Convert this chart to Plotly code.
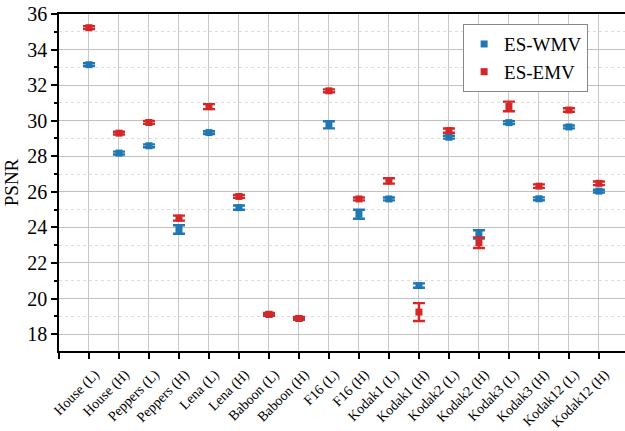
import plotly.graph_objects as go

categories = ["House (L)", "House (H)", "Peppers (L)", "Peppers (H)", "Lena (L)", "Lena (H)",
              "Baboon (L)", "Baboon (H)", "F16 (L)", "F16 (H)", "Kodak1 (L)", "Kodak1 (H)",
              "Kodak2 (L)", "Kodak2 (H)", "Kodak3 (L)", "Kodak3 (H)", "Kodak12 (L)", "Kodak12 (H)"]

wmv = [33.15, 28.18, 28.59, 23.88, 29.33, 25.11, 19.11, 18.88, 29.77, 24.74, 25.60, 20.73,
       29.07, 23.61, 29.89, 25.61, 29.65, 26.04]
wmv_err = [0.08, 0.08, 0.08, 0.24, 0.08, 0.12, 0.05, 0.05, 0.20, 0.25, 0.08, 0.12,
           0.08, 0.23, 0.08, 0.08, 0.08, 0.08]

emv = [35.23, 29.30, 29.90, 24.52, 30.79, 25.74, 19.11, 18.88, 31.68, 25.60, 26.61, 19.24,
       29.44, 23.14, 30.80, 26.32, 30.60, 26.48]
emv_err = [0.08, 0.08, 0.08, 0.14, 0.14, 0.08, 0.08, 0.08, 0.08, 0.08, 0.15, 0.50,
           0.12, 0.30, 0.27, 0.10, 0.10, 0.10]

yticks = [18, 20, 22, 24, 26, 28, 30, 32, 34, 36]

xidx = list(range(len(categories)))
BLUE = "#1f77b4"
RED = "#d62728"
FONT = "Liberation Serif"

fig = go.Figure()
for name, vals, errs, col in [("ES-WMV", wmv, wmv_err, BLUE), ("ES-EMV", emv, emv_err, RED)]:
    fig.add_trace(go.Scatter(
        x=xidx, y=vals, mode="markers", name=name,
        marker=dict(symbol="square", size=7, color=col),
        error_y=dict(type="data", array=errs, visible=True, color=col, thickness=2.4, width=6),
    ))

fig.update_layout(
    width=625, height=431,
    margin=dict(l=59, r=0, t=14, b=80),
    paper_bgcolor="white", plot_bgcolor="white",
    font=dict(family=FONT, color="black"),
    legend=dict(x=0.714, y=0.97, xanchor="left", yanchor="top",
                bordercolor="#888888", borderwidth=1, bgcolor="white",
                font=dict(size=19, family=FONT), itemwidth=30,
                tracegroupgap=0),
    showlegend=True,
)

fig.update_xaxes(
    range=[-1, 17.87], automargin=False,
    tickmode="array", tickvals=[-1] + xidx, ticktext=[""] + categories,
    tickangle=-45, tickfont=dict(size=14, family=FONT),
    ticklabelshift=6, ticklabelstandoff=2,
    ticks="outside", ticklen=6, tickwidth=1.5, tickcolor="black",
    showline=True, linecolor="black", linewidth=1.5, mirror=True,
    showgrid=True, gridcolor="#c8c8c8", gridwidth=1,
    zeroline=False,
)
fig.update_yaxes(
    range=[17.05, 36], automargin=False,
    tickmode="array", tickvals=yticks,
    tickfont=dict(size=20, family=FONT),
    ticks="outside", ticklen=6, tickwidth=1.5, tickcolor="black",
    showline=True, linecolor="black", linewidth=1.5, mirror=False,
    showgrid=True, gridcolor="#c0c0c0", gridwidth=1,
    minor=dict(dtick=1, tick0=17, ticks="outside", ticklen=3, tickcolor="black",
               showgrid=True, gridcolor="#dddddd", griddash="dot", gridwidth=1),
    title=dict(text="PSNR", font=dict(size=19, family=FONT), standoff=4),
    zeroline=False,
)

fig.write_html("out.html")
